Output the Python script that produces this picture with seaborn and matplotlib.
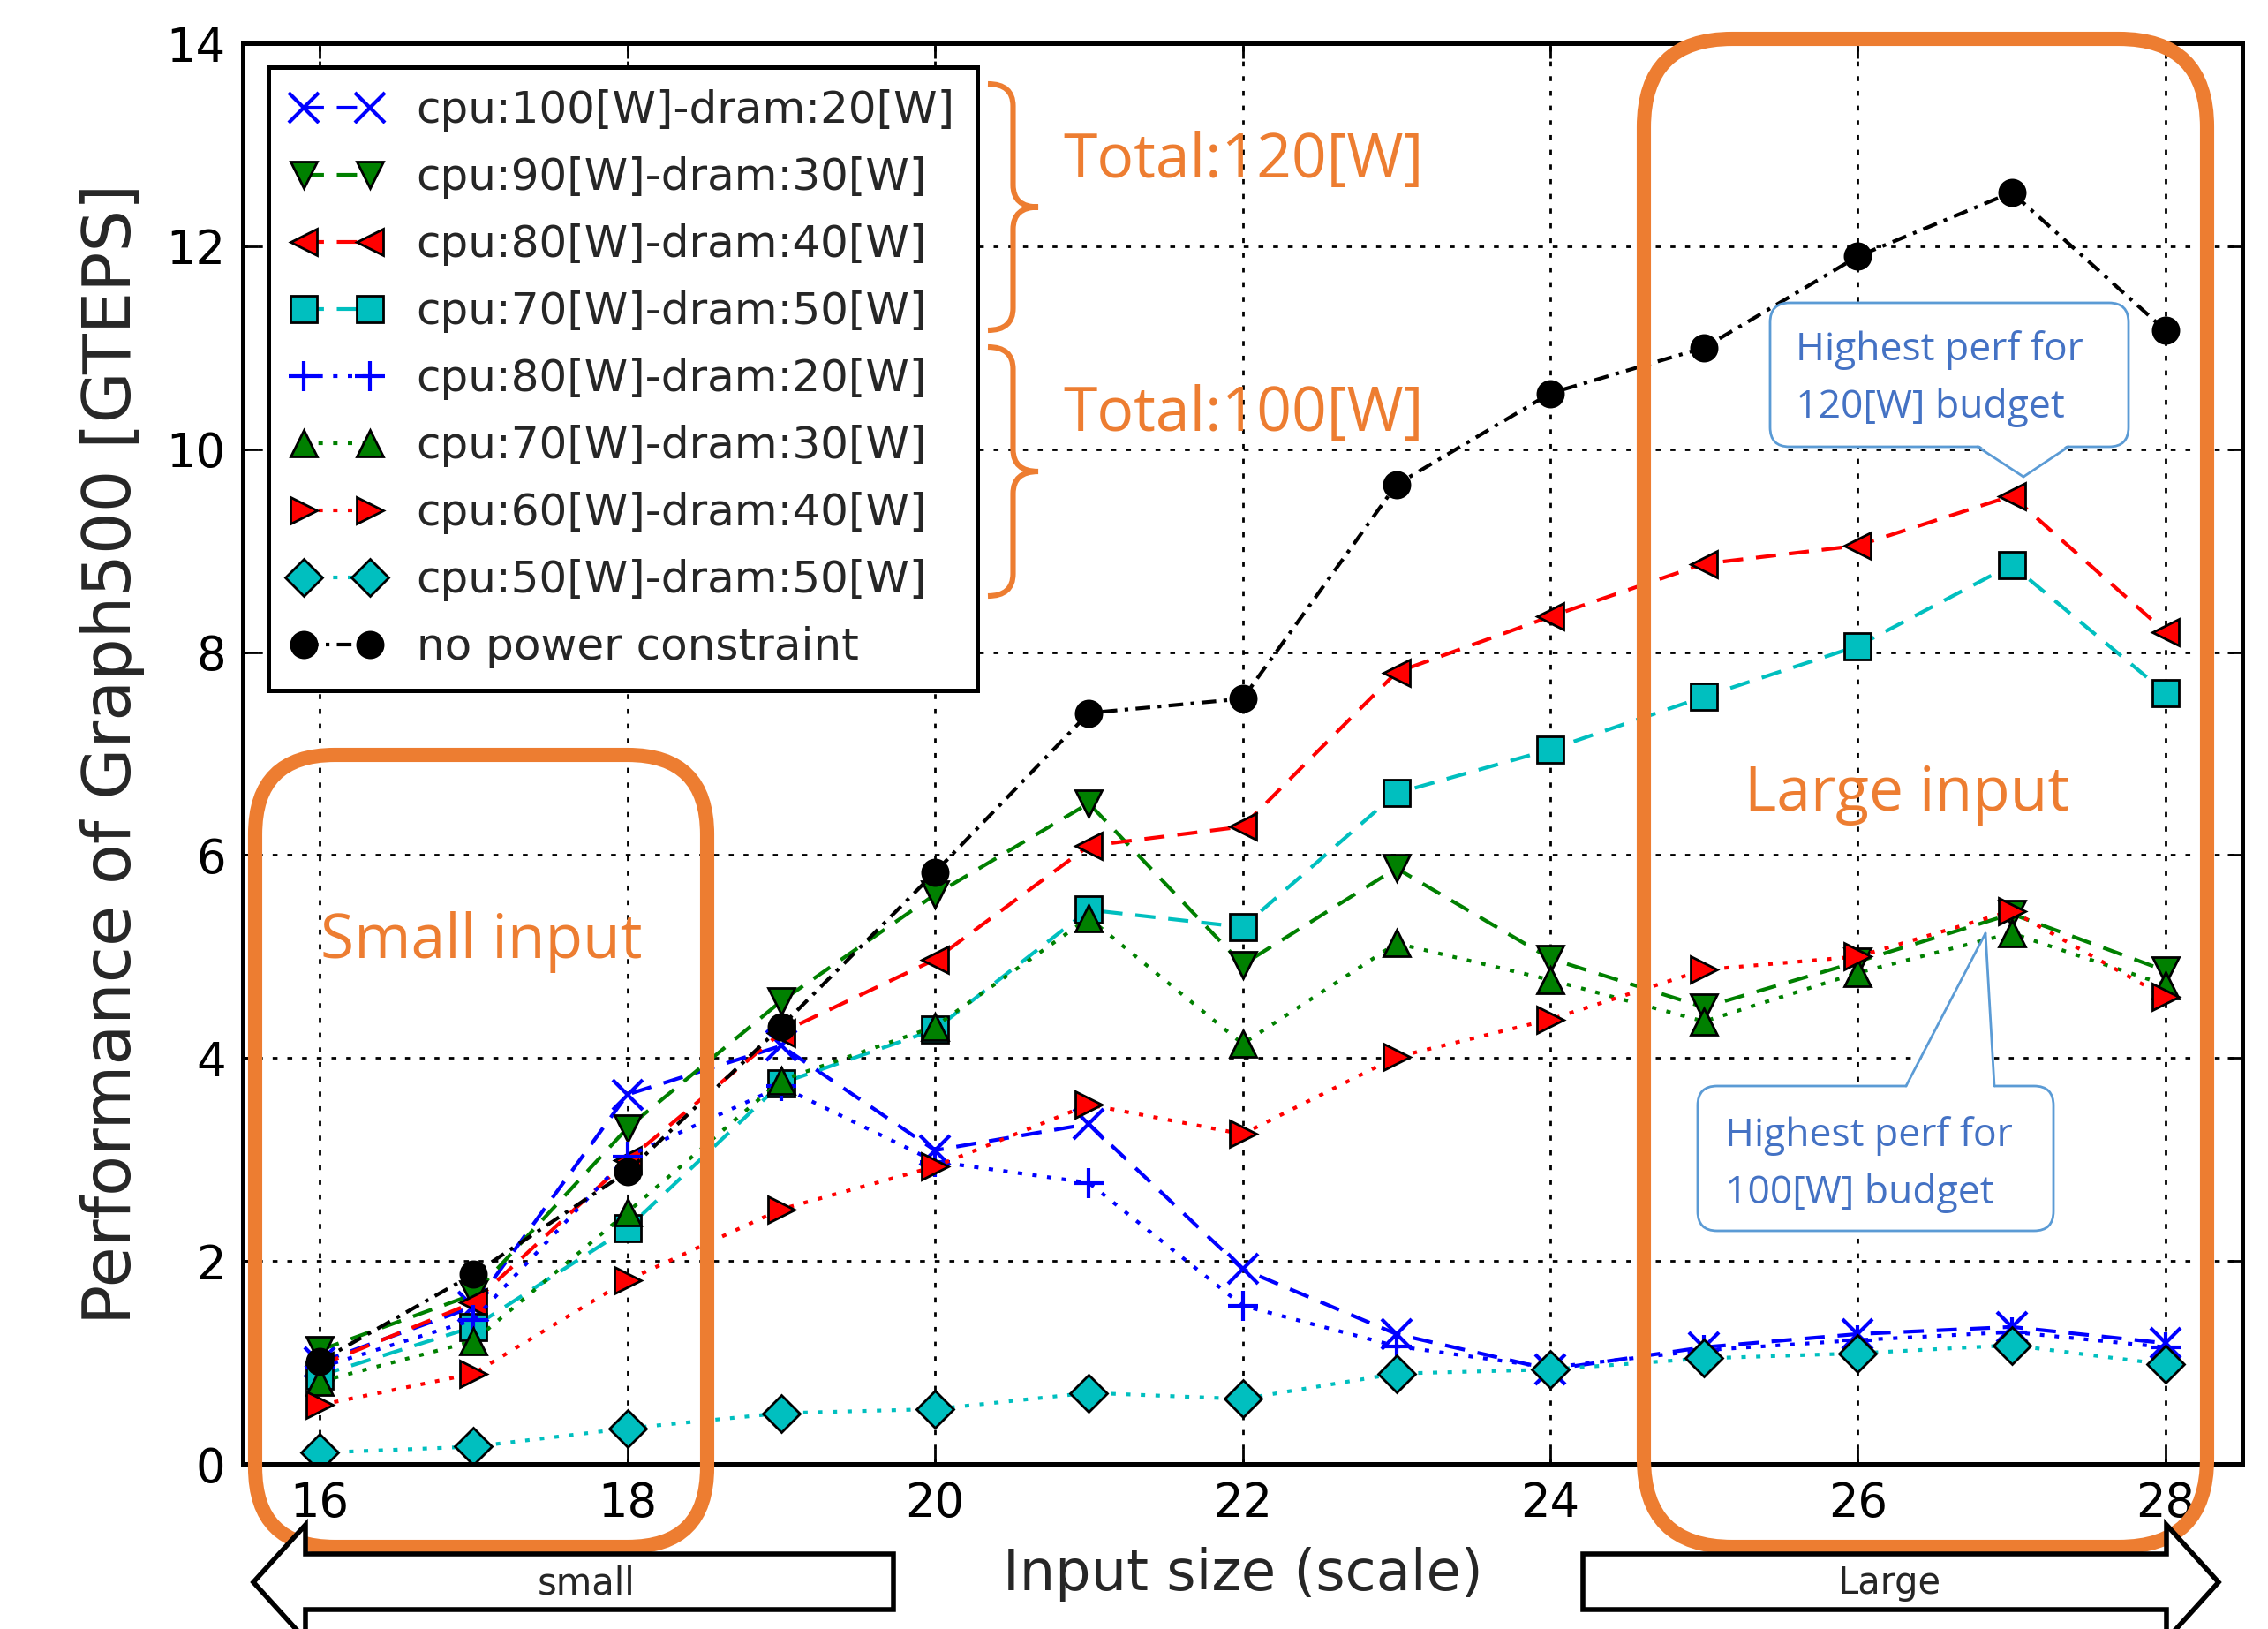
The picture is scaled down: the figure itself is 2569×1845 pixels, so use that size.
import matplotlib
matplotlib.use("Agg")
import matplotlib.pyplot as plt
import pandas as pd
import seaborn as sns
from matplotlib.lines import Line2D
from matplotlib.patches import FancyBboxPatch, PathPatch, Polygon
from matplotlib.path import Path
from matplotlib.transforms import Affine2D

# values
scales = [16, 17, 18, 19, 20, 21, 22, 23, 24, 25, 26, 27, 28]
cpu100_dram20 = [1.00, 1.55, 3.64, 4.12, 3.09, 3.35, 1.92, 1.28, 0.93, 1.15, 1.28, 1.35, 1.19]
cpu90_dram30 = [1.12, 1.67, 3.31, 4.56, 5.61, 6.51, 4.92, 5.87, 4.98, 4.50, 4.95, 5.42, 4.86]
cpu80_dram40 = [0.97, 1.59, 2.99, 4.25, 4.97, 6.09, 6.28, 7.80, 8.35, 8.87, 9.05, 9.54, 8.20]
cpu70_dram50 = [0.87, 1.35, 2.32, 3.75, 4.28, 5.46, 5.29, 6.61, 7.04, 7.56, 8.06, 8.86, 7.60]
cpu80_dram20 = [0.95, 1.42, 3.03, 3.72, 2.98, 2.77, 1.56, 1.16, 0.95, 1.12, 1.22, 1.30, 1.15]
cpu70_dram30 = [0.81, 1.21, 2.48, 3.78, 4.31, 5.38, 4.14, 5.13, 4.77, 4.36, 4.84, 5.23, 4.72]
cpu60_dram40 = [0.58, 0.89, 1.81, 2.51, 2.93, 3.54, 3.25, 4.01, 4.38, 4.87, 5.00, 5.45, 4.60]
cpu50_dram50 = [0.11, 0.17, 0.35, 0.50, 0.54, 0.70, 0.64, 0.89, 0.93, 1.04, 1.09, 1.17, 0.98]
no_constraint = [1.01, 1.87, 2.88, 4.31, 5.83, 7.40, 7.54, 9.65, 10.55, 11.00, 11.90, 12.53, 11.17]

configs = [
    "cpu:100[W]-dram:20[W]",
    "cpu:90[W]-dram:30[W]",
    "cpu:80[W]-dram:40[W]",
    "cpu:70[W]-dram:50[W]",
    "cpu:80[W]-dram:20[W]",
    "cpu:70[W]-dram:30[W]",
    "cpu:60[W]-dram:40[W]",
    "cpu:50[W]-dram:50[W]",
    "no power constraint",
]
series = [cpu100_dram20, cpu90_dram30, cpu80_dram40, cpu70_dram50, cpu80_dram20,
          cpu70_dram30, cpu60_dram40, cpu50_dram50, no_constraint]

colors = ["#0000ff", "#008000", "#ff0000", "#00bfbf", "#0000ff", "#008000", "#ff0000", "#00bfbf", "#000000"]
markers = ["x", "v", "<", "s", "+", "^", ">", "D", "o"]
dashed = (5.5, 3.5)
dotted = (1.2, 2.8)
dashdot = (4, 2, 1, 2)
dashes = [dashed, dashed, dashed, dashed, dotted, dotted, dotted, dotted, dashdot]

ORANGE = "#ED7D31"
CALL_TEXT = "#4472C4"
CALL_EDGE = "#5B9BD5"

df = pd.concat(
    [pd.DataFrame({"scale": scales, "gteps": vals, "config": name}) for name, vals in zip(configs, series)],
    ignore_index=True,
)

sns.set_style("ticks")
plt.rcParams["font.family"] = ["DejaVu Sans"]

W, H, DPI = 2569, 1845, 200
fig = plt.figure(figsize=(W / DPI, H / DPI), dpi=DPI)
ax = fig.add_axes([275 / W, 1 - 1658 / H, (2540 - 275) / W, (1658 - 49) / H])

# seaborn refuses to mix filled and line-art markers, so use a filled stand-in and swap after
sns_markers = [m if m not in ("x", "+") else "o" for m in markers]
sns.lineplot(
    data=df, x="scale", y="gteps", hue="config", style="config",
    hue_order=configs, style_order=configs,
    palette=dict(zip(configs, colors)),
    markers=dict(zip(configs, sns_markers)),
    dashes=dict(zip(configs, dashes)),
    markersize=10.5, linewidth=1.5, errorbar=None, legend=False, ax=ax,
)

for line, m, c in zip(ax.lines, markers, colors):
    line.set_marker(m)
    if m in ("x", "+"):
        line.set_markeredgecolor(c)
        line.set_markeredgewidth(1.5)
        line.set_markersize(12)
    else:
        line.set_markeredgecolor("k")
        line.set_markeredgewidth(1.0)

ax.set_xlim(15.5, 28.5)
ax.set_ylim(0, 14)
ax.set_xticks(range(16, 29, 2))
ax.set_yticks(range(0, 15, 2))
ax.grid(True, color="k", linestyle=(0, (2, 4)), linewidth=1.0)
ax.set_axisbelow(True)
ax.tick_params(direction="in", length=6, width=1, top=True, right=True, labelsize=19, pad=7, colors="k")
for sp in ax.spines.values():
    sp.set_linewidth(1.8)
    sp.set_color("k")

ax.set_xlabel("Input size (scale)", fontsize=23)
ax.set_ylabel("Performance of Graph500 [GTEPS]", fontsize=27)
ax.xaxis.set_label_coords(0.5, -(1783 - 1658) / (1658 - 49))
ax.xaxis.label.set_va("center")
ax.yaxis.set_label_coords(-(275 - 128) / (2540 - 275), 0.5)
ax.yaxis.label.set_va("center")

leg = ax.legend(
    handles=ax.lines[:9], labels=configs, loc="upper left",
    bbox_to_anchor=((304 - 275) / (2540 - 275), 1 - (76 - 49) / (1658 - 49)),
    borderaxespad=0, fontsize=18, numpoints=2, handlelength=2.1, handletextpad=0.75,
    labelspacing=0.56, borderpad=0.5, fancybox=False, framealpha=1, shadow=False,
)
leg.get_frame().set_edgecolor("k")
leg.get_frame().set_linewidth(1.8)

# annotation layer in reference-pixel coordinates (origin top-left)
px = Affine2D().scale(1 / DPI, -1 / DPI).translate(0, H / DPI) + fig.dpi_scale_trans


def rounded_box(x0, y0, x1, y1, r, **kw):
    p = FancyBboxPatch((x0, y0), x1 - x0, y1 - y0, boxstyle=f"round,pad=0,rounding_size={r}",
                       transform=px, **kw)
    fig.add_artist(p)


def brace(x0, xt, ytop, ybot, r):
    xm = (x0 + xt) / 2
    ym = (ytop + ybot) / 2
    verts = [(x0, ytop), (xm, ytop), (xm, ytop + r), (xm, ym - r), (xm, ym), (xt, ym),
             (xm, ym), (xm, ym + r), (xm, ybot - r), (xm, ybot), (x0, ybot)]
    codes = [Path.MOVETO, Path.CURVE3, Path.CURVE3, Path.LINETO, Path.CURVE3, Path.CURVE3,
             Path.CURVE3, Path.CURVE3, Path.LINETO, Path.CURVE3, Path.CURVE3]
    fig.add_artist(PathPatch(Path(verts, codes), transform=px, fill=False, ec=ORANGE, lw=2.2))


def callout(box, base_l, base_r, base_y, tip, tx, lines_y, texts):
    x0, y0, x1, y1 = box
    rounded_box(x0, y0, x1, y1, 22, fc="white", ec=CALL_EDGE, lw=1.0, zorder=5)
    inset = 3 if base_y == y1 else -3
    tri = Polygon([(base_l, base_y - inset), tip, (base_r, base_y - inset)], closed=True,
                  transform=px, fc="white", ec="none", zorder=6)
    fig.add_artist(tri)
    for bx in (base_l, base_r):
        fig.add_artist(Line2D([bx, tip[0]], [base_y, tip[1]], transform=px, color=CALL_EDGE, lw=1.0, zorder=7))
    for ty, s in zip(lines_y, texts):
        fig.text(tx, ty, s, transform=px, ha="left", va="center", color=CALL_TEXT,
                 fontsize=16, family=["Open Sans", "DejaVu Sans"], zorder=8)


# orange highlight boxes
rounded_box(289, 855, 801, 1752, 90, fill=False, ec=ORANGE, lw=5.8, zorder=3)
rounded_box(1862, 44, 2500, 1752, 100, fill=False, ec=ORANGE, lw=5.8, zorder=3)
fig.text(545, 1067, "Small input", transform=px, ha="center", va="center", color=ORANGE,
         fontsize=25, family=["Open Sans", "DejaVu Sans"], zorder=4)
fig.text(2160, 900, "Large input", transform=px, ha="center", va="center", color=ORANGE,
         fontsize=25, family=["Open Sans", "DejaVu Sans"], zorder=4)

# power budget braces
brace(1119, 1176, 95, 374, 25)
brace(1119, 1176, 393, 675, 25)
fig.text(1204, 183, "Total:120[W]", transform=px, ha="left", va="center", color=ORANGE,
         fontsize=25, family=["Open Sans", "DejaVu Sans"])
fig.text(1204, 470, "Total:100[W]", transform=px, ha="left", va="center", color=ORANGE,
         fontsize=25, family=["Open Sans", "DejaVu Sans"])

# callouts
callout((2005, 343, 2411, 506), 2240, 2343, 506, (2292, 540), 2034, (397, 462),
        ["Highest perf for", "120[W] budget"])
callout((1923, 1230, 2326, 1394), 2159, 2259, 1230, (2249, 1057), 1954, (1287, 1352),
        ["Highest perf for", "100[W] budget"])

# small / large arrows under the axis
left_arrow = [(287, 1792), (346, 1727), (346, 1760), (1012, 1760), (1012, 1823), (346, 1823), (346, 1857)]
right_arrow = [(1793, 1760), (2454, 1760), (2454, 1727), (2513, 1792), (2454, 1857), (2454, 1823), (1793, 1823)]
for pts in (left_arrow, right_arrow):
    fig.add_artist(Polygon(pts, closed=True, transform=px, fc="white", ec="k", lw=2.0, zorder=4))
fig.text(664, 1793, "small", transform=px, ha="center", va="center", fontsize=15, zorder=5)
fig.text(2140, 1793, "Large", transform=px, ha="center", va="center", fontsize=15, zorder=5)

fig.savefig("out.png", dpi=DPI)
